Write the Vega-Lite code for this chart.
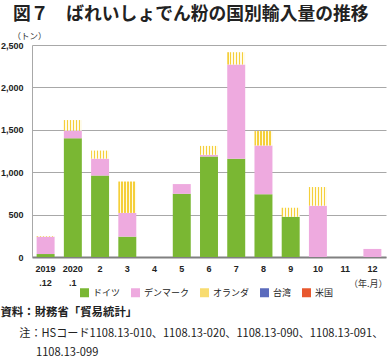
{
  "$schema": "https://vega.github.io/schema/vega-lite/v6.json",
  "padding": {"left": 0, "top": 6, "right": 0, "bottom": 0},
  "background": "white",
  "title": {
    "text": "資料：財務省「貿易統計」",
    "subtitle": ["\u200b\u2003\u2002\u2009注：HSコード1108.13-010、1108.13-020、1108.13-090、1108.13-091、", "\u200b\u2003\u2003\u2003\u20091108.13-099"],
    "orient": "bottom",
    "anchor": "start",
    "offset": 9,
    "font": "Noto Sans CJK JP",
    "fontSize": 11.4,
    "fontWeight": "bold",
    "color": "#222222",
    "subtitleFont": "Noto Sans CJK JP",
    "subtitleFontSize": 11.1,
    "subtitleFontWeight": "normal",
    "subtitleColor": "#222222",
    "subtitlePadding": 10,
    "subtitleLineHeight": 18.5
  },
  "datasets": {
    "imports": [
      {"m": "2019/.12", "c": "ドイツ", "v": 35},
      {"m": "2019/.12", "c": "デンマーク", "v": 205},
      {"m": "2019/.12", "c": "オランダ", "v": 8},
      {"m": "2020/.1", "c": "ドイツ", "v": 1400},
      {"m": "2020/.1", "c": "デンマーク", "v": 90},
      {"m": "2020/.1", "c": "オランダ", "v": 125},
      {"m": "2", "c": "ドイツ", "v": 960},
      {"m": "2", "c": "デンマーク", "v": 200},
      {"m": "2", "c": "オランダ", "v": 95},
      {"m": "3", "c": "ドイツ", "v": 240},
      {"m": "3", "c": "デンマーク", "v": 280},
      {"m": "3", "c": "オランダ", "v": 370},
      {"m": "5", "c": "ドイツ", "v": 745},
      {"m": "5", "c": "デンマーク", "v": 115},
      {"m": "6", "c": "ドイツ", "v": 1185},
      {"m": "6", "c": "デンマーク", "v": 20},
      {"m": "6", "c": "オランダ", "v": 105},
      {"m": "7", "c": "ドイツ", "v": 1160},
      {"m": "7", "c": "デンマーク", "v": 1110},
      {"m": "7", "c": "オランダ", "v": 145},
      {"m": "8", "c": "ドイツ", "v": 740},
      {"m": "8", "c": "デンマーク", "v": 575},
      {"m": "8", "c": "オランダ", "v": 170},
      {"m": "9", "c": "ドイツ", "v": 475},
      {"m": "9", "c": "オランダ", "v": 105},
      {"m": "10", "c": "デンマーク", "v": 605},
      {"m": "10", "c": "オランダ", "v": 220},
      {"m": "12", "c": "デンマーク", "v": 95}
    ]
  },
  "vconcat": [
    {
      "width": 354,
      "height": 212,
      "data": {"name": "imports"},
      "title": {
        "text": "\u200b\u2002\u2009図７　ばれいしょでん粉の国別輸入量の推移",
        "anchor": "start",
        "fontSize": 17.8,
        "fontWeight": "bold",
        "font": "Noto Sans CJK JP",
        "color": "#222222",
        "offset": 7
      },
      "mark": {"type": "bar", "strokeWidth": 0},
      "encoding": {
        "x": {
          "field": "m",
          "type": "ordinal",
          "scale": {
            "domain": ["2019/.12", "2020/.1", "2", "3", "4", "5", "6", "7", "8", "9", "10", "11", "12"],
            "paddingInner": 0.34,
            "paddingOuter": 0.17
          },
          "axis": {
            "title": "（年.月）",
            "titleAnchor": "end",
            "titleAlign": "right",
            "titleX": 355,
            "titleY": 26,
            "titleBaseline": "middle",
            "titleFont": "Noto Sans CJK JP",
            "titleFontSize": 9,
            "titleFontWeight": "normal",
            "titleColor": "#333333",
            "labelExpr": "split(datum.label, '/')",
            "labelAngle": 0,
            "labelFont": "Liberation Sans",
            "labelFontSize": 9,
            "labelFontWeight": "bold",
            "labelColor": "#222222",
            "labelLineHeight": 14,
            "labelPadding": 7,
            "ticks": false,
            "domainColor": "#808080",
            "domainWidth": 2
          }
        },
        "y": {
          "field": "v",
          "type": "quantitative",
          "aggregate": "sum",
          "stack": "zero",
          "scale": {"domain": [0, 2500], "nice": false},
          "axis": {
            "values": [0, 500, 1000, 1500, 2000, 2500],
            "format": ",.0f",
            "title": "（トン）",
            "titleAngle": 0,
            "titleAlign": "left",
            "titleBaseline": "middle",
            "titleX": -20,
            "titleY": -10,
            "titleFont": "Noto Sans CJK JP",
            "titleFontSize": 8.5,
            "titleFontWeight": "normal",
            "titleColor": "#333333",
            "labelFont": "Liberation Sans",
            "labelFontSize": 9,
            "labelFontWeight": "bold",
            "labelColor": "#222222",
            "labelPadding": 9,
            "ticks": false,
            "grid": true,
            "gridColor": "#a8a8a8",
            "gridWidth": 1,
            "domain": true,
            "domainColor": "#a8a8a8"
          }
        },
        "color": {
          "condition": {
            "test": "datum.c === 'オランダ'",
            "value": {
              "gradient": "linear", "x1": 0, "y1": 0, "x2": 1, "y2": 0,
              "stops": [
                {"offset": 0, "color": "#f5cf3a"}, {"offset": 0.07, "color": "#f5cf3a"}, {"offset": 0.07, "color": "#fffbe8"}, {"offset": 0.1667, "color": "#fffbe8"},
                {"offset": 0.1667, "color": "#f5cf3a"}, {"offset": 0.2367, "color": "#f5cf3a"}, {"offset": 0.2367, "color": "#fffbe8"}, {"offset": 0.3333, "color": "#fffbe8"},
                {"offset": 0.3333, "color": "#f5cf3a"}, {"offset": 0.4033, "color": "#f5cf3a"}, {"offset": 0.4033, "color": "#fffbe8"}, {"offset": 0.5, "color": "#fffbe8"},
                {"offset": 0.5, "color": "#f5cf3a"}, {"offset": 0.57, "color": "#f5cf3a"}, {"offset": 0.57, "color": "#fffbe8"}, {"offset": 0.6667, "color": "#fffbe8"},
                {"offset": 0.6667, "color": "#f5cf3a"}, {"offset": 0.7367, "color": "#f5cf3a"}, {"offset": 0.7367, "color": "#fffbe8"}, {"offset": 0.8333, "color": "#fffbe8"},
                {"offset": 0.8333, "color": "#f5cf3a"}, {"offset": 0.9033, "color": "#f5cf3a"}, {"offset": 0.9033, "color": "#fffbe8"}, {"offset": 1, "color": "#fffbe8"}
              ]
            }
          },
          "field": "c",
          "type": "nominal",
          "sort": ["ドイツ", "デンマーク", "オランダ", "台湾", "米国"],
          "scale": {
            "domain": ["ドイツ", "デンマーク", "オランダ", "台湾", "米国"],
            "range": ["#7ab733", "#eeaadf", "#f8dc70", "#5b6bbd", "#e8582e"]
          },
          "legend": {
            "orient": "none",
            "legendX": 48,
            "legendY": 243,
            "direction": "horizontal",
            "title": null,
            "symbolType": "square",
            "symbolSize": 81,
            "symbolStrokeWidth": 0,
            "labelFont": "Noto Sans CJK JP",
            "labelFontSize": 9,
            "labelColor": "#222222",
            "labelOffset": 4,
            "columnPadding": 10
          }
        }
      }
    }
  ],
  "config": {
    "view": {"stroke": null},
    "concat": {"spacing": 0}
  }
}
